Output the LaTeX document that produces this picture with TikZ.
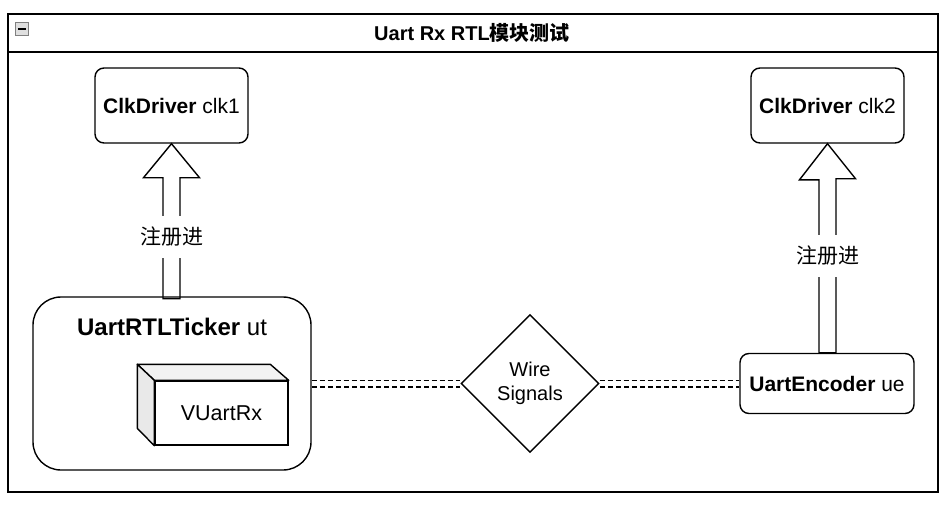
\documentclass[tikz,border=0pt]{standalone}
\usepackage{fontspec}
\setmainfont{Liberation Sans}
\newfontfamily\cjk{Noto Sans CJK SC}
\usetikzlibrary{shapes.geometric,calc,positioning}

\begin{document}
\begin{tikzpicture}[
            x=1pt, y=-1pt,
            frame/.style={draw, line width=1.7pt},
            box_node/.style={rectangle, draw, line width=1.4pt, rounded corners=9pt, font=\fontsize{21}{25}\selectfont},
            driver_node/.style={box_node, minimum width=153pt, minimum height=75pt},
            ticker_node/.style={box_node, rounded corners=28pt, minimum width=278pt, minimum height=173pt},
            encoder_node/.style={box_node, minimum width=174pt, minimum height=60pt},
            module_node/.style={rectangle, draw, line width=1.4pt, fill=white, minimum width=133pt, minimum height=64pt, font=\fontsize{21.5}{25}\selectfont},
            signal_node/.style={diamond, draw, line width=1.4pt, aspect=1, minimum width=138pt, minimum height=138pt, inner sep=0pt, align=center, font=\fontsize{20}{24}\selectfont},
            hollow_arrow/.style={draw, line width=1.4pt, line join=miter},
            reg_label/.style={fill=white, inner xsep=3pt, inner ysep=11pt, font=\cjk\fontsize{21}{25}\selectfont},
            wire/.style={draw, line width=1.4pt, double, double distance=5.2pt, dash pattern=on 5pt off 3pt}
        ]
            \useasboundingbox (0,0) rectangle (950,506);
            % The frame and its title
            \draw[frame] (8,14) rectangle (938,492);
            \draw[frame] (8,52) -- (938,52);
            \node[draw=gray, fill=gray!25, minimum size=13pt, inner sep=0pt] (fold) at (22,29) {};
            \draw[line width=1.8pt] ([xshift=2.5pt]fold.west) -- ([xshift=-2.5pt]fold.east);
            \node[font=\bfseries\fontsize{20}{24}\selectfont] (title) at (472,33) {Uart Rx RTL{\cjk 模块测试}};

            % The drivers
            \node[driver_node] (clk1) at (171.5,105.5) {\textbf{ClkDriver} clk1};
            \node[driver_node] (clk2) at (827.5,105.5) {\textbf{ClkDriver} clk2};

            % The ticker with its module
            \node[ticker_node] (ut) at (172,383.5) {};
            \node[font=\fontsize{24}{28}\selectfont] (ut_title) at (172,327) {\textbf{UartRTLTicker} ut};
            \node[module_node] (vrx) at (221.5,413) {VUartRx};
            \filldraw[line width=1.4pt, line join=round, fill=gray!10] (vrx.north west) -- ++(-17,-16) -- ++(133,0) -- (vrx.north east) -- cycle;
            \filldraw[line width=1.4pt, line join=round, fill=gray!17] (vrx.north west) -- ++(-17,-16) -- ++(0,64) -- (vrx.south west) -- cycle;

            % The signals and the encoder
            \node[signal_node] (sig) at (530,383.5) {Wire\\Signals};
            \node[encoder_node] (ue) at (827,383.5) {\textbf{UartEncoder} ue};

            \draw[wire] (ut.east |- sig.west) -- (sig.west);
            \draw[wire] (sig.east) -- (sig.east -| ue.west);

            % Registration arrows
            \draw[hollow_arrow] (clk1.south) -- ++(28,34) -- ++(-19.5,0) -- ++(0,121) -- ++(-17,0) -- ++(0,-121) -- ++(-19.5,0) -- cycle;
            \node[reg_label] (reg1) at (172,237) {注册进};
            \draw[hollow_arrow] (clk2.south) -- ++(28,35) -- ++(-19.5,0) -- (ue.north -| 836,0) -- (ue.north -| 819,0) -- ++(0,-173) -- ++(-19.5,0) -- cycle;
            \node[reg_label] (reg2) at (827.5,256) {注册进};
        \end{tikzpicture}
\end{document}
